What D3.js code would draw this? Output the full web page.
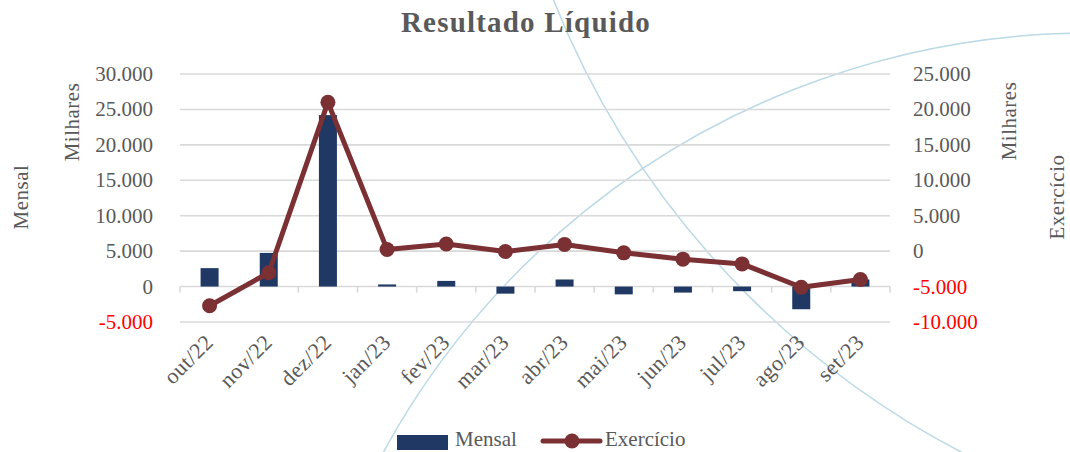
<!DOCTYPE html>
<html>
<head>
<meta charset="utf-8">
<script src="https://cdn.jsdelivr.net/npm/d3@7"></script>
<style>
  body { margin: 0; background: #fff; }
  svg { display: block; font-family: 'Liberation Serif', 'DejaVu Serif', serif; }
</style>
</head>
<body>
<svg id="chart" width="1070" height="452"></svg>
<script>
const months = ['out/22', 'nov/22', 'dez/22', 'jan/23', 'fev/23', 'mar/23', 'abr/23', 'mai/23', 'jun/23', 'jul/23', 'ago/23', 'set/23']
const mensal = [2600, 4750, 24200, 300, 800, -1000, 1000, -1100, -850, -650, -3200, 1000]
const exercicio = [-7700, -3050, 21000, 240, 1000, -50, 950, -240, -1130, -1800, -5100, -4000]
const leftTicks = [-5000, 0, 5000, 10000, 15000, 20000, 25000, 30000]
const rightTicks = [-10000, -5000, 0, 5000, 10000, 15000, 20000, 25000]

const barColor = '#203864'
const lineColor = '#7b3034'
const textColor = '#595959'
const gridColor = '#d9d9d9'

const locale = d3.formatLocale({ decimal: ',', thousands: '.', grouping: [3], currency: ['R$', ''], minus: '-' })
const fmt = locale.format(',d')

const svg = d3.select('#chart')

// decorative arcs in the background
svg.append('g')
  .attr('fill', 'none')
  .attr('stroke', '#bcd9e6')
  .attr('stroke-width', 1.5)
  .selectAll('circle')
  .data([[1368, -325, 877], [1090, 838, 805]])
  .enter().append('circle')
  .attr('cx', d => d[0])
  .attr('cy', d => d[1])
  .attr('r', d => d[2])

const x = d3.scaleBand().domain(months).range([180, 890])
const yL = d3.scaleLinear().domain([-5000, 30000]).range([322, 74])
const yR = d3.scaleLinear().domain([-10000, 25000]).range([322, 74])

// gridlines
svg.append('g')
  .selectAll('line')
  .data(leftTicks)
  .enter().append('line')
  .attr('x1', 180)
  .attr('x2', 890)
  .attr('y1', d => yL(d))
  .attr('y2', d => yL(d))
  .attr('stroke', gridColor)
  .attr('stroke-width', 1.6)

// category ticks on the zero line
svg.append('g')
  .selectAll('line')
  .data(months.concat(['end']))
  .enter().append('line')
  .attr('x1', (d, i) => 180 + i * x.step())
  .attr('x2', (d, i) => 180 + i * x.step())
  .attr('y1', yL(0))
  .attr('y2', yL(0) + 6)
  .attr('stroke', gridColor)
  .attr('stroke-width', 1.6)

// left axis labels
svg.append('g')
  .attr('font-size', 21)
  .attr('text-anchor', 'end')
  .selectAll('text')
  .data(leftTicks)
  .enter().append('text')
  .attr('x', 153)
  .attr('y', d => yL(d) + 7)
  .attr('fill', d => d < 0 ? '#ff0000' : textColor)
  .text(d => fmt(d))

// right axis labels
svg.append('g')
  .attr('font-size', 21)
  .selectAll('text')
  .data(rightTicks)
  .enter().append('text')
  .attr('x', 913)
  .attr('y', d => yR(d) + 7)
  .attr('fill', d => d < 0 ? '#ff0000' : textColor)
  .text(d => fmt(d))

// month labels
svg.append('g')
  .attr('font-size', 22)
  .attr('letter-spacing', 0.5)
  .attr('fill', textColor)
  .attr('text-anchor', 'end')
  .selectAll('text')
  .data(months)
  .enter().append('text')
  .attr('transform', d => `translate(${x(d) + x.bandwidth() / 2 + 5},${yL(0) + 57}) rotate(-45)`)
  .text(d => d)

// bars
const bw = 18
svg.append('g')
  .selectAll('rect')
  .data(mensal)
  .enter().append('rect')
  .attr('x', (d, i) => x(months[i]) + x.bandwidth() / 2 - bw / 2)
  .attr('width', bw)
  .attr('y', d => yL(Math.max(0, d)))
  .attr('height', d => Math.abs(yL(d) - yL(0)))
  .attr('fill', barColor)

// exercicio line
const line = d3.line()
  .x((d, i) => x(months[i]) + x.bandwidth() / 2)
  .y(d => yR(d))

svg.append('path')
  .datum(exercicio)
  .attr('d', line)
  .attr('fill', 'none')
  .attr('stroke', lineColor)
  .attr('stroke-width', 5)
  .attr('stroke-linejoin', 'round')

svg.append('g')
  .selectAll('circle')
  .data(exercicio)
  .enter().append('circle')
  .attr('cx', (d, i) => x(months[i]) + x.bandwidth() / 2)
  .attr('cy', d => yR(d))
  .attr('r', 7.5)
  .attr('fill', lineColor)

// title
svg.append('text')
  .attr('x', 526)
  .attr('y', 32)
  .attr('text-anchor', 'middle')
  .attr('font-size', 29)
  .attr('letter-spacing', 1.2)
  .attr('font-weight', 'bold')
  .attr('fill', textColor)
  .text('Resultado Líquido')

// axis titles
const axisTitles = [
  { text: 'Mensal', x: 28, y: 197 },
  { text: 'Milhares', x: 79, y: 122 },
  { text: 'Milhares', x: 1016, y: 121 },
  { text: 'Exercício', x: 1064, y: 197 }
]
svg.append('g')
  .attr('font-size', 21)
  .attr('letter-spacing', 0.5)
  .attr('fill', textColor)
  .attr('text-anchor', 'middle')
  .selectAll('text')
  .data(axisTitles)
  .enter().append('text')
  .attr('transform', d => `translate(${d.x},${d.y}) rotate(-90)`)
  .text(d => d.text)

// legend
const legend = svg.append('g').attr('font-size', 21).attr('fill', textColor)
legend.append('rect')
  .attr('x', 397).attr('y', 435).attr('width', 51).attr('height', 15)
  .attr('fill', barColor)
legend.append('text').attr('x', 455).attr('y', 446).text('Mensal')
legend.append('line')
  .attr('x1', 543).attr('x2', 600).attr('y1', 441).attr('y2', 441)
  .attr('stroke', lineColor).attr('stroke-width', 5).attr('stroke-linecap', 'round')
legend.append('circle')
  .attr('cx', 572).attr('cy', 441).attr('r', 7.5)
  .attr('fill', lineColor)
legend.append('text').attr('x', 605).attr('y', 446).text('Exercício')
</script>
</body>
</html>
